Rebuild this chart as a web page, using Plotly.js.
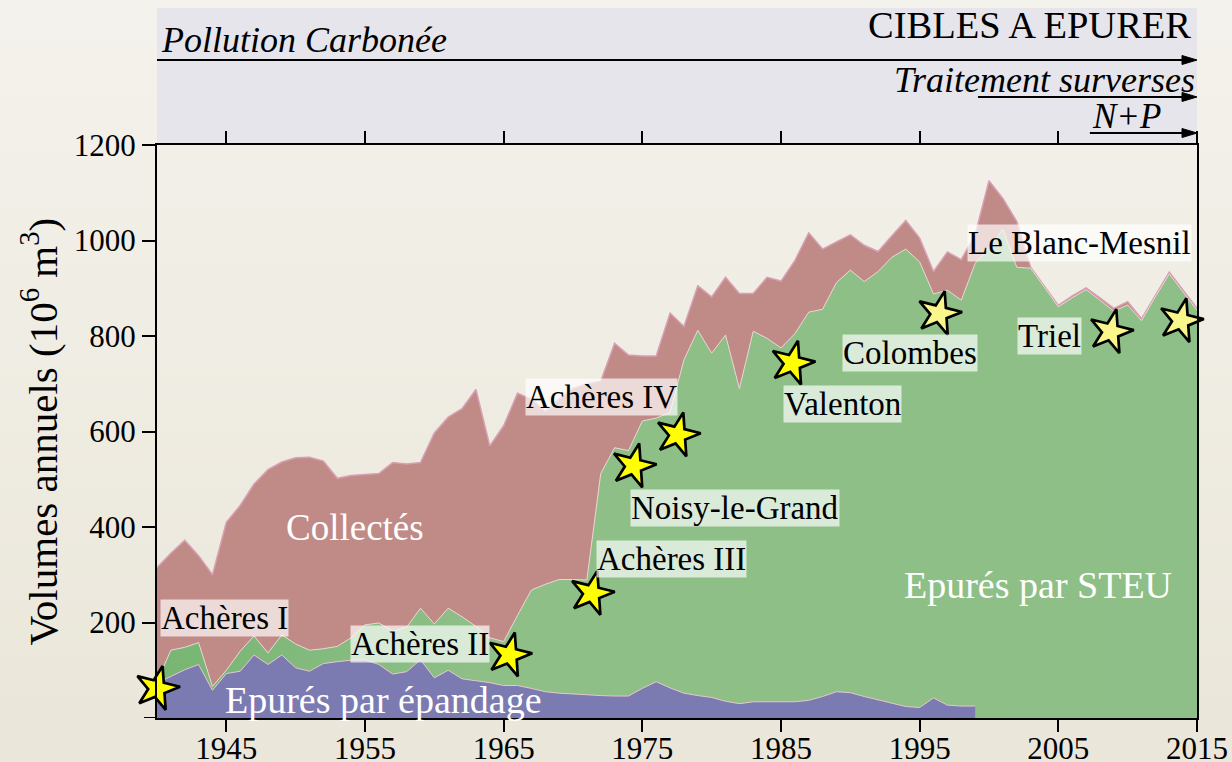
<!DOCTYPE html>
<html>
<head>
<meta charset="utf-8">
<script src="https://cdn.plot.ly/plotly-3.0.1.min.js"></script>
<style>
  html, body { margin: 0; padding: 0; }
  body { width: 1232px; height: 762px; background: linear-gradient(180deg, #f4f2ec 0%, #eae6d9 100%); overflow: hidden; }
  #chart { width: 1232px; height: 762px; }
</style>
</head>
<body>
<div id="chart"></div>
<script>
// ---- Data ----
const years = [1940,1941,1942,1943,1944,1945,1946,1947,1948,1949,
               1950,1951,1952,1953,1954,1955,1956,1957,1958,1959,
               1960,1961,1962,1963,1964,1965,1966,1967,1968,1969,
               1970,1971,1972,1973,1974,1975,1976,1977,1978,1979,
               1980,1981,1982,1983,1984,1985,1986,1987,1988,1989,
               1990,1991,1992,1993,1994,1995,1996,1997,1998,1999,
               2000,2001,2002,2003,2004,2005,2006,2007,2008,2009,
               2010,2011,2012,2013,2014,2015];

// Volumes collectés (10^6 m3)
const collectes = [315,345,372,340,300,410,445,490,520,536,
                   545,546,538,502,508,510,512,535,532,535,
                   597,630,648,688,570,612,680,668,642,668,
                   690,700,705,785,760,758,758,848,820,905,
                   882,923,889,889,923,915,958,1016,982,997,
                   1012,990,977,1010,1042,1005,935,976,960,1012,
                   1125,1088,1040,944,905,864,884,901,880,858,
                   872,836,885,934,896,858];

// Volumes épurés au total (STEU + épandage)
const epuresTotal = [76,142,148,158,66,100,140,172,136,174,
                     155,142,145,150,168,195,199,182,190,230,
                     197,230,212,192,168,160,215,268,280,290,
                     290,289,512,566,560,622,628,640,750,812,
                     764,802,690,810,795,775,805,850,856,912,
                     938,914,935,965,982,955,888,896,875,952,
                     985,1023,944,942,902,861,880,897,875,852,
                     865,832,882,930,892,854];

// Volumes épurés par épandage (1940-1999)
const epandage = [73,87,101,112,58,93,98,132,112,132,
                  105,98,114,118,121,122,112,92,97,122,
                  84,100,82,78,74,68,68,62,55,52,
                  50,48,47,46,46,62,76,63,52,47,
                  43,35,30,34,34,33,34,37,45,55,
                  53,45,38,30,24,22,42,27,25,25];

// Mises en service des stations (étoiles)
const starYears  = [1940, 1965.4, 1971.35, 1974.37, 1977.55, 1985.82, 1996.4, 2008.78, 2013.83];
const starValues = [62, 132, 261, 528, 593, 743, 847, 809, 832];

const xTickVals = [1945, 1955, 1965, 1975, 1985, 1995, 2005, 2015];
const xTickText = ['1945','1955','1965','1975','1985','1995','2005','2015'];
const yTickVals = [200, 400, 600, 800, 1000, 1200];
const yTickText = ['200', '400', '600', '800', '1000', '1200'];

// ---- Styles ----
const SERIF = 'Liberation Serif, Times New Roman, serif';
const starFill = ['#ffff00','#ffff00','#ffff00','#ffff00','#ffff00','#ffff00','#f9f78c','#f9f78c','#f9f78c'];

const traces = [
  { x: years, y: collectes, type: 'scatter', mode: 'lines', fill: 'tozeroy',
    fillcolor: '#c08b86', line: { color: '#d8a0b6', width: 1.5 }, hoverinfo: 'skip' },
  { x: years, y: epuresTotal, type: 'scatter', mode: 'lines', fill: 'tozeroy',
    fillcolor: '#8dbf87',
    fillgradient: { type: 'horizontal', colorscale: [[0, '#78b572'], [0.18, '#85bb7f'], [0.3, '#8dbf87'], [1, '#8ebf88']] },
    line: { color: '#eed6d8', width: 1 }, hoverinfo: 'skip' },
  { x: years.slice(0, epandage.length), y: epandage, type: 'scatter', mode: 'lines', fill: 'tozeroy',
    fillcolor: '#7c7bb1', line: { color: '#e8c6cf', width: 1 }, hoverinfo: 'skip' },
  { x: starYears, y: starValues, type: 'scatter', mode: 'markers', cliponaxis: false,
    marker: { symbol: 'star', size: 33, angle: 14, color: starFill, line: { color: '#000', width: 2.7 } },
    hoverinfo: 'skip' }
];

function boxLabel(text, x, y) {
  return { text: text, x: x, y: y, xref: 'x', yref: 'y', showarrow: false,
           xanchor: 'center', yanchor: 'middle',
           font: { family: SERIF, size: 33, color: '#000' },
           bgcolor: 'rgba(255,255,255,0.68)', borderpad: 0 };
}
function bigLabel(text, x, y, size) {
  return { text: text, x: x, y: y, xref: 'x', yref: 'y', showarrow: false,
           xanchor: 'center', yanchor: 'middle',
           font: { family: SERIF, size: size, color: '#ffffff' } };
}
function arrowShapes(yPaper, x0Paper) {
  return [
    { type: 'line', xref: 'paper', yref: 'paper', x0: x0Paper, x1: 0.995, y0: yPaper, y1: yPaper,
      line: { color: '#000', width: 2 } },
    { type: 'path', xref: 'paper', yref: 'paper', xsizemode: 'pixel', ysizemode: 'pixel',
      xanchor: 1, yanchor: yPaper, path: 'M 0 0 L -15 4.5 L -15 -4.5 Z',
      fillcolor: '#000', line: { color: '#000', width: 1 } }
  ];
}

const annotations = [
  boxLabel('Achères I', 1944.9, 209),
  boxLabel('Achères II', 1959.0, 154),
  boxLabel('Achères III', 1977.07, 333),
  boxLabel('Achères IV', 1972.05, 672),
  boxLabel('Noisy-le-Grand', 1981.65, 440),
  boxLabel('Valenton', 1989.4, 658),
  boxLabel('Colombes', 1994.27, 765),
  boxLabel('Le Blanc-Mesnil', 2006.56, 995),
  boxLabel('Triel', 2004.36, 800),
  bigLabel('Collectés', 1954.28, 400, 37),
  bigLabel('Epurés par épandage', 1956.3, 38, 38),
  bigLabel('Epurés par STEU', 2003.53, 278, 38),
  // banner texts
  { text: '<i>Pollution Carbonée</i>', x: 0.002, y: 1.1832, xref: 'paper', yref: 'paper',
    xanchor: 'left', yanchor: 'middle', showarrow: false, font: { family: SERIF, size: 36, color: '#000' } },
  { text: 'CIBLES A EPURER', x: 0.9962, y: 1.2094, xref: 'paper', yref: 'paper',
    xanchor: 'right', yanchor: 'middle', showarrow: false, font: { family: SERIF, size: 38.5, color: '#000' } },
  { text: '<i>Traitement surverses</i>', x: 1.0, y: 1.1134, xref: 'paper', yref: 'paper',
    xanchor: 'right', yanchor: 'middle', showarrow: false, font: { family: SERIF, size: 36, color: '#000' } },
  { text: '<i>N+P</i>', x: 0.9673, y: 1.0489, xref: 'paper', yref: 'paper',
    xanchor: 'right', yanchor: 'middle', showarrow: false, font: { family: SERIF, size: 35, color: '#000' } },
  // y axis title
  { text: 'Volumes annuels (10<sup>6</sup> m<sup>3</sup>)', x: -0.1135, y: 0.5, xref: 'paper', yref: 'paper',
    xanchor: 'center', yanchor: 'middle', textangle: -90, showarrow: false,
    font: { family: SERIF, size: 41, color: '#000' } }
];

const shapes = [
  { type: 'rect', xref: 'paper', yref: 'paper', x0: 0, x1: 1, y0: 1, y1: 1.2391,
    fillcolor: '#e6e5eb', line: { width: 0 }, layer: 'below' },
  // tick mark at 0 on the y axis (no label)
  { type: 'line', xref: 'paper', yref: 'y', x0: -0.0125, x1: 0, y0: 0, y1: 0,
    line: { color: '#000', width: 2 } }
].concat(arrowShapes(1.1483, 0), arrowShapes(1.0838, 0.7894), arrowShapes(1.0209, 0.8970));

const layout = {
  width: 1232, height: 762,
  margin: { l: 157, r: 35, t: 145, b: 44, pad: 0 },
  paper_bgcolor: 'rgba(0,0,0,0)',
  plot_bgcolor: 'rgba(0,0,0,0)',
  showlegend: false,
  xaxis: {
    range: [1940, 2015], tickvals: xTickVals, ticktext: xTickText,
    ticks: 'outside', ticklen: 12, tickwidth: 2, tickcolor: '#000',
    showline: true, linecolor: '#000', linewidth: 2, mirror: 'ticks',
    showgrid: false, zeroline: false, ticklabelstandoff: -10,
    tickfont: { family: SERIF, size: 31, color: '#000' }
  },
  yaxis: {
    range: [0, 1200], tickvals: yTickVals, ticktext: yTickText,
    ticks: 'outside', ticklen: 13, tickwidth: 2, tickcolor: '#000',
    showline: true, linecolor: '#000', linewidth: 2, mirror: true,
    showgrid: false, zeroline: false,
    tickfont: { family: SERIF, size: 31, color: '#000' }
  },
  shapes: shapes,
  annotations: annotations
};

Plotly.newPlot('chart', traces, layout, { displayModeBar: false, staticPlot: true });
</script>
</body>
</html>
